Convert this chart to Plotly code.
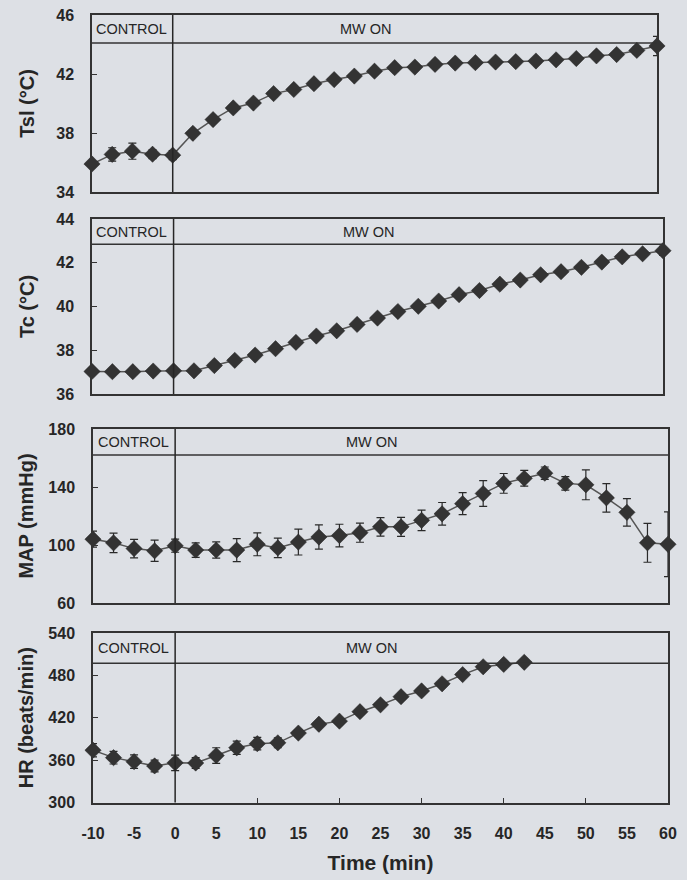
import plotly.graph_objects as go

# ---------------- data ----------------
time_min = [-10, -7.5, -5, -2.5, 0, 2.5, 5, 7.5, 10, 12.5, 15, 17.5, 20, 22.5, 25,
            27.5, 30, 32.5, 35, 37.5, 40, 42.5, 45, 47.5, 50, 52.5, 55, 57.5, 60]

tsl = [35.9, 36.55, 36.77, 36.56, 36.5, 37.98, 38.91, 39.7, 40.03, 40.67, 40.95,
       41.34, 41.62, 41.86, 42.19, 42.43, 42.47, 42.65, 42.74, 42.77, 42.81, 42.84,
       42.88, 42.96, 43.05, 43.23, 43.32, 43.6, 43.9]
tsl_err = [0.2, 0.45, 0.55, 0.3, 0.3, 0.2, 0.2, 0.2, 0.2, 0.2, 0.2, 0.2, 0.2, 0.2, 0.2,
           0.2, 0.2, 0.2, 0.2, 0.2, 0.2, 0.2, 0.2, 0.2, 0.2, 0.2, 0.2, 0.25, 0.65]

tc = [37.03, 37.02, 37.02, 37.05, 37.06, 37.06, 37.3, 37.54, 37.78, 38.07, 38.36,
      38.65, 38.89, 39.18, 39.47, 39.77, 40.01, 40.25, 40.54, 40.73, 41.02, 41.21,
      41.45, 41.59, 41.79, 42.03, 42.27, 42.41, 42.55]
tc_err = [0.08] * 28 + [0.2]

map_vals = [104, 101.5, 97.5, 96, 99.5, 96.5, 96.5, 96.5, 100.5, 98, 102, 105.5,
            106.5, 108.5, 112.5, 112.5, 117, 121.5, 128.5, 135.5, 142.5, 146, 149.5,
            142.5, 141.5, 132.5, 122.5, 101.5, 100.5]
map_err = [5.5, 6.7, 6.4, 7.3, 4.5, 5, 5.6, 7.9, 7.9, 6.7, 8.9, 8.4, 7.8, 6.6, 6.4,
           6.6, 7.1, 7.8, 7.6, 8.9, 6.8, 5.4, 4.3, 4.6, 10.3, 9.8, 9.5, 13.4, 22.3]

hr_time = time_min[:22]
hr = [374, 363.5, 357.8, 351.8, 356.2, 355.9, 366.5, 377.5, 383.3, 384.5, 398.3,
      410.8, 415.2, 428.6, 438.3, 449.8, 458, 468.1, 481.1, 492.2, 495.5, 498.5]
hr_err = [9.5, 9, 9.5, 8.3, 11, 7.6, 11, 9.5, 8.8, 7, 5, 4, 4, 4, 4, 4, 4, 4, 4, 4, 4, 4]

panel_titles = ["Tsl (°C)", "Tc (°C)", "MAP (mmHg)", "HR (beats/min)"]
y_ranges = [[34, 46], [36, 44], [60, 180], [300, 540]]
y_tickvals = [[34, 38, 42, 46], [36, 38, 40, 42, 44], [60, 100, 140, 180],
              [300, 360, 420, 480, 540]]
divider_levels = [44.1, 42.85, 162, 497]
phase_labels = ["CONTROL", "MW ON"]
phase_label_x = [-5.1, 24]
x_ticks = [-10, -5, 0, 5, 10, 15, 20, 25, 30, 35, 40, 45, 50, 55, 60]
x_tick_text = ["-10", "-5", "0", "5", "10", "15", "20", "25", "30", "35", "40",
               "45", "50", "55", "60"]
x_inner_ticks = [10, 20, 30, 40, 50]
x_title = "Time (min)"

series = [(time_min, tsl, tsl_err), (time_min, tc, tc_err),
          (time_min, map_vals, map_err), (hr_time, hr, hr_err)]

# ---------------- layout geometry ----------------
W, H = 687, 880
px_boxes = [  # (left, right, top, bottom) in pixels
    (92, 657, 15, 192),
    (92, 663, 219, 394),
    (93, 668, 429, 603),
    (93, 668, 633, 802.5),
]
title_standoffs = [16, 16, 9, 9]

BG = "#dde0e5"
INK = "#262626"
FONT = "Liberation Sans, Arial, sans-serif"

fig = go.Figure()
layout = dict(
    width=W, height=H,
    margin=dict(l=0, r=0, t=0, b=0),
    paper_bgcolor=BG, plot_bgcolor=BG,
    showlegend=False,
    font=dict(family=FONT, color=INK),
    shapes=[], annotations=[],
)

for i, ((xs, ys, es), (l, r, t, b)) in enumerate(zip(series, px_boxes), start=1):
    sfx = "" if i == 1 else str(i)
    fig.add_trace(go.Scatter(
        x=xs, y=ys, mode="lines+markers",
        line=dict(color="#555555", width=1.5),
        marker=dict(symbol="diamond", size=12.5, color="#333333",
                    line=dict(color="#222222", width=0.5)),
        error_y=dict(type="data", array=es, color="#2a2a2a", thickness=1.2, width=4),
        xaxis="x" + sfx, yaxis="y" + sfx, cliponaxis=False,
    ))
    xdom = [l / W, r / W]
    ydom = [1 - b / H, 1 - t / H]
    layout["xaxis" + sfx] = dict(
        domain=xdom, range=[-10, 60], anchor="y" + sfx,
        showline=True, mirror=True, linecolor="#333333", linewidth=1.5,
        showgrid=False, zeroline=False,
        tickvals=x_ticks, ticktext=x_tick_text, ticks="", showticklabels=(i == 4),
        tickfont=dict(family=FONT, size=16, weight="bold", color=INK),
        ticklabelstandoff=16, automargin=False,
        title=dict(text=x_title if i == 4 else "", standoff=14,
                   font=dict(family=FONT, size=21, weight="bold", color=INK)),
    )
    layout["yaxis" + sfx] = dict(
        domain=ydom, range=y_ranges[i - 1], anchor="x" + sfx,
        showline=True, mirror=True, linecolor="#333333", linewidth=1.5,
        showgrid=False, zeroline=False,
        tickvals=y_tickvals[i - 1], ticks="inside", ticklen=5, tickcolor="#333333",
        tickfont=dict(family=FONT, size=16, weight="bold", color=INK),
        ticklabelstandoff=13, automargin=False,
        title=dict(text=panel_titles[i - 1], standoff=title_standoffs[i - 1],
                   font=dict(family=FONT, size=20, weight="bold", color=INK)),
    )
    # divider line (phase band)
    layout["shapes"].append(dict(
        type="line", xref="x%s domain" % sfx, yref="y" + sfx,
        x0=0, x1=1, y0=divider_levels[i - 1], y1=divider_levels[i - 1],
        line=dict(color="#333333", width=1.5), layer="above"))
    # MW on marker line at t = 0
    layout["shapes"].append(dict(
        type="line", xref="x" + sfx, yref="y%s domain" % sfx,
        x0=0, x1=0, y0=0, y1=1,
        line=dict(color="#262626", width=1.5), layer="above"))
    ymid = (y_ranges[i - 1][1] + divider_levels[i - 1]) / 2
    for lab, lx in zip(phase_labels, phase_label_x):
        layout["annotations"].append(dict(
            text=lab, x=lx, y=ymid, xref="x" + sfx, yref="y" + sfx,
            showarrow=False, font=dict(family=FONT, size=14.5, color=INK)))

# inner x tick marks on the bottom panel
l, r, t, b = px_boxes[3]
fig.add_trace(go.Scatter(x=[None], y=[None], xaxis="x5", yaxis="y4",
                         showlegend=False, hoverinfo="skip"))
layout["xaxis5"] = dict(
    domain=[l / W, r / W], range=[-10, 60], overlaying="x4", anchor="y4",
    tickvals=x_inner_ticks, ticks="inside", ticklen=5, tickcolor="#333333",
    showticklabels=False, showgrid=False, zeroline=False, showline=False,
)

fig.update_layout(**layout)
fig.write_html(
    "out.html",
    config={"displayModeBar": False},
    post_script="document.body.style.margin='0';document.body.style.overflow='hidden';",
)
